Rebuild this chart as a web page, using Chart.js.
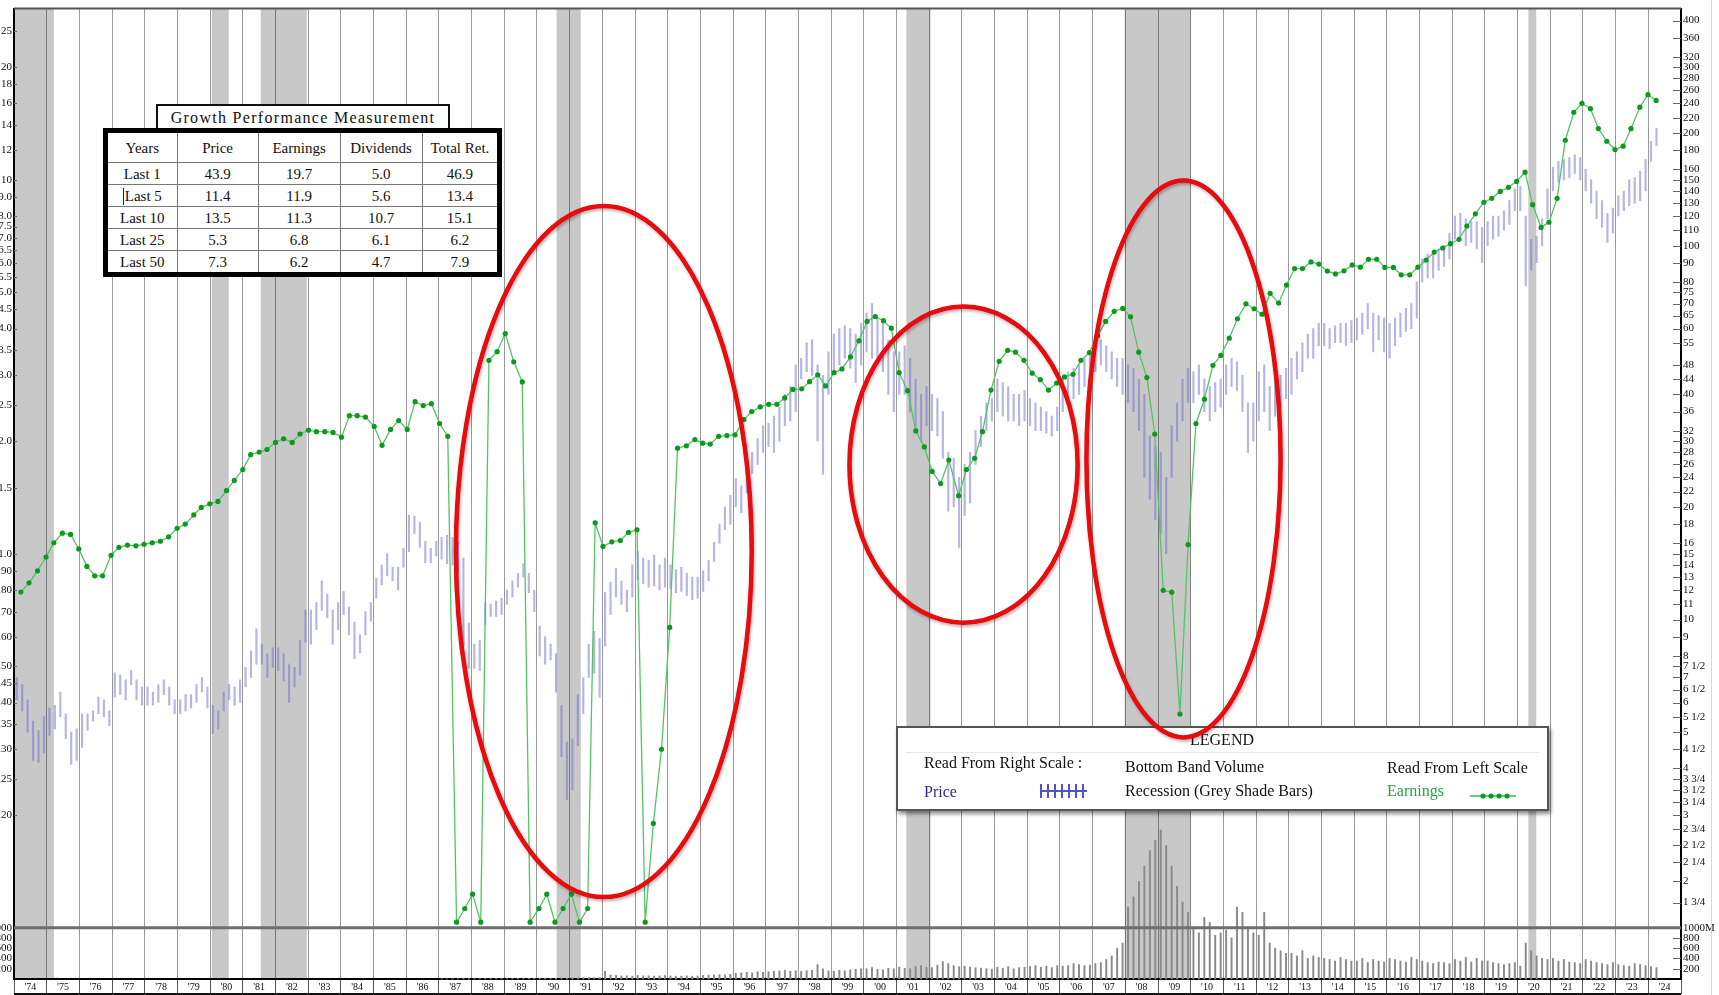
<!DOCTYPE html>
<html>
<head>
<meta charset="utf-8">
<script src="https://cdn.jsdelivr.net/npm/chart.js@4.4.1/dist/chart.umd.min.js"></script>
<style>
  html, body { margin:0; padding:0; background:#fff; }
  #wrap { position:relative; width:1719px; height:995px; overflow:hidden; font-family:"Liberation Serif","DejaVu Serif",serif; color:#111; }
  #chart { position:absolute; left:0; top:0; }
  #marks { position:absolute; left:0; top:0; pointer-events:none; }
  #edge { position:absolute; left:1711px; top:0; width:1px; height:995px; background:#d8d8d8; }
  .perfTitle { position:absolute; left:156px; top:104px; width:290px; height:22px; border:2px solid #111; background:#fff;
    font-size:16px; letter-spacing:1.3px; text-align:center; line-height:23px; }
  table.perf { position:absolute; left:103px; top:128px; width:399px; height:145px; border-collapse:collapse;
    border:5px solid #000; background:#fff; font-size:15px; }
  table.perf td { border:1.5px solid #777; text-align:center; padding:0; height:21px; line-height:18px; }
  table.perf tr.head td { height:29px; }
  .cursor { display:inline-block; width:1px; height:17px; background:#222; vertical-align:-4px; margin-right:1px; }
  #legendBox { position:absolute; left:896px; top:726px; width:649px; height:81px; border:2.5px solid #555; background:#fff;
    box-shadow:2px 3px 4px rgba(0,0,0,0.45); }
  #legendBox .t { position:absolute; font-size:16px; white-space:nowrap; line-height:18px; }
  #legendBox .rule { position:absolute; left:8px; right:8px; top:24px; height:1px; background:#e6e6e6; }
</style>
</head>
<body>
<div id="wrap">
  <canvas id="chart" width="1719" height="995"></canvas>
  <div id="edge"></div>
  <div class="perfTitle">Growth Performance Measurement</div>
  <table class="perf" id="perf"></table>
  <div id="legendBox">
    <div class="t" style="left:292px; top:3px;">LEGEND</div>
    <div class="rule"></div>
    <div class="t" style="left:26px; top:26px;">Read From Right Scale :</div>
    <div class="t" style="left:227px; top:30px;">Bottom Band Volume</div>
    <div class="t" style="left:489px; top:31px;">Read From Left Scale</div>
    <div class="t" style="left:26px; top:55px; color:#2d2d84;">Price</div>
    <svg style="position:absolute; left:141px; top:55px;" width="50" height="16">
      <line x1="1" y1="8" x2="48" y2="8" stroke="#5252c8" stroke-width="2"/>
      <g stroke="#5252c8" stroke-width="2">
        <line x1="2" y1="1" x2="2" y2="15"/><line x1="9" y1="1" x2="9" y2="15"/><line x1="16" y1="1" x2="16" y2="15"/>
        <line x1="23" y1="1" x2="23" y2="15"/><line x1="30" y1="1" x2="30" y2="15"/><line x1="37" y1="1" x2="37" y2="15"/>
        <line x1="44" y1="1" x2="44" y2="15"/>
      </g>
    </svg>
    <div class="t" style="left:227px; top:54px;">Recession (Grey Shade Bars)</div>
    <div class="t" style="left:489px; top:54px; color:#2f9e46;">Earnings</div>
    <svg style="position:absolute; left:571px; top:63px;" width="48" height="10">
      <line x1="1" y1="5" x2="47" y2="5" stroke="#3fb552" stroke-width="1.6"/>
      <g fill="#0c9a1c"><circle cx="14" cy="5" r="2.6"/><circle cx="22" cy="5" r="2.6"/><circle cx="30" cy="5" r="2.6"/><circle cx="38" cy="5" r="2.6"/></g>
    </svg>
  </div>
  <svg id="marks" width="1719" height="995"></svg>
</div>
<script>
// ---- table ----
const perfHeader = ['Years', 'Price', 'Earnings', 'Dividends', 'Total Ret.'];
const perfRows = [
  ['Last 1', '43.9', '19.7', '5.0', '46.9'],
  ['Last 5', '11.4', '11.9', '5.6', '13.4'],
  ['Last 10', '13.5', '11.3', '10.7', '15.1'],
  ['Last 25', '5.3', '6.8', '6.1', '6.2'],
  ['Last 50', '7.3', '6.2', '4.7', '7.9']
];
const perfColWidths = [70, 82, 82, 82, 76];

// ---- earnings (left scale), quarterly ----
const earnYears = [
  1974.21,1974.46,1974.72,1974.98, 1975.22,1975.48,1975.73,1975.98, 1976.23,1976.47,1976.71,1976.97,
  1977.21,1977.47,1977.73,1977.98, 1978.23,1978.48,1978.73,1978.99, 1979.24,1979.5,1979.73,1979.99,
  1980.24,1980.5,1980.74,1981.0, 1981.24,1981.5,1981.74,1982.0, 1982.25,1982.51,1982.75,1983.01,
  1983.25,1983.51,1983.76,1984.02, 1984.26,1984.5,1984.75,1985.02, 1985.26,1985.52,1985.77,1986.03,
  1986.27,1986.52,1986.77,1987.02, 1987.27,1987.54,1987.79,1988.03, 1988.28,1988.53,1988.78,1989.03,
  1989.29,1989.55,1989.79,1990.06, 1990.3,1990.55,1990.8,1991.05, 1991.3,1991.55,1991.78,1992.02,
  1992.29,1992.55,1992.8,1993.06, 1993.31,1993.56,1993.81,1994.06, 1994.3,1994.57,1994.83,1995.07,
  1995.3,1995.56,1995.81,1996.06, 1996.33,1996.57,1996.83,1997.09, 1997.34,1997.58,1997.83,1998.1,
  1998.34,1998.59,1998.83,1999.09, 1999.33,1999.59,1999.85,2000.1, 2000.35,2000.6,2000.84,2001.08,
  2001.34,2001.59,2001.85,2002.09, 2002.35,2002.6,2002.9,2003.14, 2003.39,2003.63,2003.89,2004.14,
  2004.4,2004.64,2004.9,2005.15, 2005.4,2005.65,2005.9,2006.14, 2006.4,2006.64,2006.9,2007.15,
  2007.4,2007.66,2007.92,2008.16, 2008.41,2008.66,2008.9,2009.16, 2009.42,2009.67,2009.92,2010.16,
  2010.42,2010.68,2010.92,2011.18, 2011.43,2011.69,2011.94,2012.18, 2012.43,2012.69,2012.93,2013.18,
  2013.42,2013.68,2013.92,2014.18, 2014.43,2014.69,2014.94,2015.19, 2015.44,2015.69,2015.94,2016.2,
  2016.44,2016.7,2016.95,2017.2, 2017.45,2017.71,2017.95,2018.21, 2018.45,2018.71,2018.97,2019.21,
  2019.47,2019.72,2019.97,2020.23, 2020.46,2020.72,2020.96,2021.21, 2021.46,2021.72,2021.97,2022.23,
  2022.47,2022.73,2022.98,2023.23, 2023.47,2023.74,2023.99,2024.24
];
const earnValues = [
  0.79,0.836,0.90,0.98, 1.07,1.135,1.126,1.03, 0.925,0.873,0.873,0.99,
  1.04,1.055,1.05,1.06, 1.07,1.08,1.11,1.17, 1.20,1.27,1.33,1.36,
  1.38,1.475,1.57,1.68, 1.84,1.87,1.90,1.985, 2.03,1.985,2.09,2.14,
  2.12,2.12,2.11,2.05, 2.34,2.34,2.32,2.19, 1.95,2.15,2.27,2.15,
  2.55,2.49,2.52,2.23, 2.06,0.1034,0.1125,0.1229, 0.1034,3.29,3.47,3.88,
  3.26,2.88,0.1034,0.1125, 0.1229,0.1034,0.1125,0.1229, 0.1034,0.1125,1.21,1.046,
  1.076,1.085,1.14,1.159, 0.1034,0.19,0.30,0.635, 1.915,1.943,2.02,1.975,
  1.965,2.06,2.07,2.08, 2.285,2.40,2.47,2.51, 2.51,2.61,2.75,2.76,
  2.885,3.01,2.81,3.05, 3.12,3.36,3.71,4.18, 4.31,4.20,4.01,3.05,
  2.73,2.13,1.93,1.66, 1.54,1.78,1.43,1.68, 1.80,2.12,2.74,3.27,
  3.50,3.46,3.29,3.04, 2.92,2.74,2.86,2.97, 3.02,3.29,3.45,3.83,
  4.18,4.45,4.53,4.30, 3.46,2.96,2.09,0.798, 0.789,0.3725,1.058,2.23,
  2.59,3.19,3.39,3.77, 4.25,4.66,4.52,4.37, 4.97,4.68,5.23,5.79,
  5.79,6.03,5.95,5.70, 5.60,5.71,5.92,5.84, 6.13,6.13,5.83,5.83,
  5.57,5.57,5.84,6.10, 6.41,6.57,6.75,6.93, 7.52,8.11,8.71,8.92,
  9.31,9.55,9.90,10.48, 8.58,7.46,7.70,8.92, 12.76,15.16,16.02,15.5,
  13.71,12.68,12.05,12.3, 13.7,15.64,16.89,16.3
];

// ---- price (right scale), two-month high/low bars from Jan 1974 ----
const priceStart = 1974;
const priceLow = [
  6.1,5.7,5.0,4.2,4.15,4.4,   4.9,5.1,5.5,4.8,4.1,4.2,    4.55,5.05,5.35,5.6,5.5,5.2,
  6.2,6.3,6.1,6.7,6.1,5.9,    5.9,5.9,6.0,6.3,5.9,5.6,    5.6,5.7,5.8,6.0,6.4,5.8,
  4.95,5.1,5.7,6.1,5.9,6.0,   6.6,7.0,7.6,7.6,7.0,7.45,   7.3,6.85,6.0,6.6,7.1,8.7,
  8.6,9.4,10.6,10.1,8.6,9.4,  10.3,9.1,7.85,8.15,9.1,9.9, 11.4,12.4,13.1,12.7,12.0,13.8,
  15.2,17.0,15.6,14.2,14.2,14.8, 14.5,14.1,14.0,13.5,8.5,7.4, 7.4,7.3,9.7,10.2,10.2,10.3,
  11.0,11.5,12.2,13.0,11.8,10.5, 8.0,7.6,7.8,6.4,4.3,3.3,  3.5,4.6,5.6,7.0,7.2,6.2,
  8.5,10.3,11.5,11.0,10.5,11.5, 12.8,12.5,12.2,12.3,12.0,12.2, 12.1,11.8,11.9,11.6,11.3,11.4,
  11.9,12.7,14.3,16.0,17.4,18.0, 20,19.3,21.8,24.6,26,28,  29,28,30,33,34,36,
  44,46,45,30,24.5,40,        46,48,50,47,43,48,          52,50,48,46,40,36,
  40,40,36,32,30,33,          32,31,27,19.5,20,15.6,      19,20.5,26,29,32,34,
  36,35,34,34,33,34,          33,32,32,31.5,31,32,        36,38,39,40,42,44,
  46,48,46,44,42,40,          38,36,32,24,21,18.5,        17,15,24,30,34,38,
  38,40,36,34,36,37,          40,42,41,36,28,30,          34,36,32,35,37,39,
  40,44,46,50,50,54,          54,53,55,55,54,55,          56,58,60,52,56,52,
  50,54,57,59,60,64,          80,82,82,86,88,92,          104,106,100,102,98,90,
  100,104,106,110,114,124,    124,78,86,90,100,118,       140,148,150,152,156,150,
  140,130,118,112,102,108,    120,124,128,130,132,140,    168,185
];
const priceHigh = [
  7.0,6.7,6.1,5.35,5.05,5.5,  5.8,5.9,6.4,5.6,5.0,5.1,    5.6,5.6,5.7,6.2,6.1,5.7,
  7.2,7.1,6.9,7.3,6.9,6.6,    6.6,6.4,6.7,6.9,6.6,6.1,    6.1,6.3,6.3,6.7,7.0,6.6,
  5.9,5.7,6.4,6.7,6.6,6.9,    7.45,8.25,9.45,8.6,8.1,8.4, 8.4,8.1,7.6,7.45,8.8,10.6,
  10.6,11.1,12.7,11.7,10.6,11.1, 11.9,10.8,9.85,9.1,10.5,11.1, 12.9,14.0,15.0,13.8,13.8,15.5,
  19.0,18.9,18.2,16.2,15.5,16.2, 16.6,16.8,16.6,16.2,14.6,9.8, 8.6,8.8,11.1,11.0,11.2,11.4,
  12.0,12.7,13.3,14.1,13.3,12.0, 9.6,9.0,8.6,8.1,5.9,4.7,  4.8,6.3,7.0,8.6,9.3,8.9,
  11.8,12.6,13.7,12.7,12.0,14.0, 15.2,14.6,14.4,14.9,14.0,14.6, 14.0,13.6,13.8,13.3,13.0,13.0,
  13.5,14.4,16.1,18.0,20.0,21.5, 23.8,22.8,25,28,30.5,33,  33.5,35,37,40,42,48,
  50,55,56,48,45,52,          58,60,61,60,58,62,          66,70,64,62,56,52,
  52,54,50,44,40,42,          40,39,36,28,27,24,          26,28,32,35,38,39,
  44,43,42,40,40,41,          39,38,37,36,35,37,          44,46,47,48,50,52,
  54,56,54,52,50,50,          48,47,44,40,31,29,          28,24,33,38,44,47,
  46,48,44,42,43,44,          48,50,49,45,38,38,          46,48,42,44,45,47,
  50,52,55,58,60,62,          62,60,61,62,62,63,          64,66,70,66,65,64,
  62,64,66,68,70,80,          92,95,96,98,100,108,        120,122,118,116,116,112,
  116,120,120,124,132,142,    144,120,104,106,118,142,    162,168,170,172,175,172,
  160,150,140,132,122,126,    136,140,150,152,158,170,    190,206
];

// ---- volume (bottom band, millions), two-month bars from Jan 1987 ----
const volumeStart = 1987;
const volume = [
  5,5,6,6,15,10,        8,8,9,10,10,10,        10,10,12,12,12,12,      12,13,14,15,20,18,
  20,22,25,28,30,30,    150,80,70,60,60,55,    70,60,60,55,60,65,      60,55,55,60,55,60,
  70,75,80,85,80,90,    110,120,130,120,140,130, 140,150,160,170,150,160, 150,160,170,280,200,160,
  150,170,160,180,190,200, 200,220,190,180,210,200, 230,210,200,240,260,230, 220,270,340,300,260,240,
  250,230,220,210,200,190, 230,210,240,200,220,230, 240,260,230,250,220,260, 250,260,300,280,260,270,
  300,320,380,450,600,700, 1400,1600,1900,2200,2500,2700, 2900,2600,2200,1800,1500,1300,
  1000,900,1200,1100,850,900, 950,800,1400,1300,1000,900, 850,1300,700,600,550,500,
  500,450,550,400,450,420, 400,380,350,420,380,350, 350,400,320,380,350,330,
  400,380,350,330,420,380, 350,320,300,330,320,300, 380,350,420,330,400,350,
  350,320,300,280,300,320, 250,700,550,450,400,380, 400,350,380,330,320,300,
  380,350,320,300,280,320, 280,260,250,300,280,260, 240,220
];

// ---- recessions (grey shade bars) ----
const recessionStart = [1974.0, 1980.05, 1981.55, 1990.6, 2001.3, 2007.98, 2020.33];
const recessionEnd   = [1975.22, 1980.57, 1982.96, 1991.34, 2002.04, 2010.0, 2020.57];

// ---- red ellipses, in years / left-scale values ----
const ellipseLeft   = [1987.52, 1999.56, 2006.81];
const ellipseRight  = [1996.57, 2006.54, 2012.75];
const ellipseTop    = [8.51, 4.58, 9.95];
const ellipseBottom = [0.1207, 0.654, 0.3227];

// ---- axes ----
const yearLabels = ["'74","'75","'76","'77","'78","'79","'80","'81","'82","'83","'84","'85","'86","'87","'88","'89",
  "'90","'91","'92","'93","'94","'95","'96","'97","'98","'99","'00","'01","'02","'03","'04","'05","'06","'07",
  "'08","'09","'10","'11","'12","'13","'14","'15","'16","'17","'18","'19","'20","'21","'22","'23","'24"];
const leftTickValues = [25,20,18,16,14,12,10,9,8,7.5,7,6.5,6,5.5,5,4.5,4,3.5,3,2.5,2,1.5,1,0.9,0.8,0.7,0.6,0.5,0.45,0.4,0.35,0.3,0.25,0.2];
const leftTickLabels = ['25','20','18','16','14','12','10','9.0','8.0','7.5','7.0','6.5','6.0','5.5','5.0','4.5','4.0','3.5','3.0','2.5','2.0','1.5','1.0','.90','.80','.70','.60','.50','.45','.40','.35','.30','.25','.20'];
const rightTickValues = [400,360,320,300,280,260,240,220,200,180,160,150,140,130,120,110,100,90,80,75,70,65,60,55,48,44,40,36,32,30,28,26,24,22,20,18,16,15,14,13,12,11,10,9,8,7.5,7,6.5,6,5.5,5,4.5,4,3.75,3.5,3.25,3,2.75,2.5,2.25,2,1.75];
const rightTickLabels = ['400','360','320','300','280','260','240','220','200','180','160','150','140','130','120','110','100','90','80','75','70','65','60','55','48','44','40','36','32','30','28','26','24','22','20','18','16','15','14','13','12','11','10','9','8','7 1/2','7','6 1/2','6','5 1/2','5','4 1/2','4','3 3/4','3 1/2','3 1/4','3','2 3/4','2 1/2','2 1/4','2','1 3/4'];
const volTickValues = [1000, 800, 600, 400, 200];
const volTickLabelsRight = ['1000M', '800', '600', '400', '200'];
const volTickLabelsLeft = ['1000', '800', '600', '400', '200'];

// build table
const tbl = document.getElementById('perf');
let html = '<tr class="head">' + perfHeader.map((h, i) => '<td style="width:' + perfColWidths[i] + 'px">' + h + '</td>').join('') + '</tr>';
perfRows.forEach((r, ri) => {
  html += '<tr>' + r.map((c, i) => '<td>' + (ri === 1 && i === 0 ? '<span class="cursor"></span>' : '') + c + '</td>').join('') + '</tr>';
});
tbl.innerHTML = html;

const serif = '"Liberation Serif", "DejaVu Serif", serif';
const tickFont = { family: serif, size: 11 };

const frame = {
  id: 'frame',
  beforeDraw(chart) {
    const { ctx, chartArea: a, scales } = chart;
    ctx.save();
    ctx.fillStyle = '#c8c8c8';
    for (let i = 0; i < recessionStart.length; i++) {
      const x0 = Math.max(a.left, scales.x.getPixelForValue(recessionStart[i]));
      const x1 = scales.x.getPixelForValue(recessionEnd[i]);
      ctx.fillRect(x0, a.top, x1 - x0, a.bottom - a.top);
    }
    ctx.restore();
  },
  afterDraw(chart) {
    const { ctx, chartArea: a, scales } = chart;
    ctx.save();
    ctx.lineWidth = 1;
    ctx.strokeStyle = '#666';
    const inner = (scale, x0, x1) => scale.ticks.forEach(t => {
      const y = Math.round(scale.getPixelForValue(t.value)) + 0.5;
      ctx.beginPath(); ctx.moveTo(x0, y); ctx.lineTo(x1, y); ctx.stroke();
    });
    inner(scales.yP, a.right - 8, a.right);
    inner(scales.yVR, a.right - 8, a.right);
    inner(scales.yE, a.left, a.left + 3);
    // separator between price panel and volume band
    ctx.strokeStyle = '#6e6e6e';
    ctx.lineWidth = 3;
    ctx.beginPath(); ctx.moveTo(a.left, scales.yE.bottom); ctx.lineTo(a.right, scales.yE.bottom); ctx.stroke();
    ctx.strokeStyle = '#555';
    ctx.lineWidth = 2;
    ctx.beginPath(); ctx.moveTo(a.left, a.top); ctx.lineTo(a.right, a.top); ctx.stroke();
    ctx.strokeStyle = '#111';
    ctx.beginPath(); ctx.moveTo(a.left, scales.x.bottom - 1); ctx.lineTo(a.right, scales.x.bottom - 1); ctx.stroke();
    ctx.restore();

    // red ellipses over everything
    const svg = document.getElementById('marks');
    let s = '<defs><filter id="sh" x="-10%" y="-10%" width="120%" height="120%"><feDropShadow dx="1" dy="2" stdDeviation="1.5" flood-color="#000" flood-opacity="0.3"/></filter></defs>';
    for (let i = 0; i < ellipseLeft.length; i++) {
      const x0 = scales.x.getPixelForValue(ellipseLeft[i]);
      const x1 = scales.x.getPixelForValue(ellipseRight[i]);
      const y0 = scales.yE.getPixelForValue(ellipseTop[i]);
      const y1 = scales.yE.getPixelForValue(ellipseBottom[i]);
      s += '<ellipse cx="' + ((x0 + x1) / 2) + '" cy="' + ((y0 + y1) / 2) + '" rx="' + ((x1 - x0) / 2) + '" ry="' + ((y1 - y0) / 2) +
        '" fill="none" stroke="#e8070e" stroke-width="4.5" filter="url(#sh)"/>';
    }
    svg.innerHTML = s;
  }
};

new Chart(document.getElementById('chart'), {
  type: 'bar',
  data: {
    datasets: [
      {
        type: 'line', label: 'Earnings', yAxisID: 'yE', order: 1,
        data: earnYears.map((x, i) => ({ x: x, y: earnValues[i] })),
        borderColor: '#52c463', borderWidth: 1.3, tension: 0,
        pointRadius: 2.6, pointBackgroundColor: '#0c9a1c', pointBorderWidth: 0
      },
      {
        type: 'bar', label: 'Price', yAxisID: 'yP', order: 2, grouped: false,
        data: priceLow.map((lo, i) => ({ x: priceStart + (i + 0.5) / 6, y: [lo, priceHigh[i]] })),
        backgroundColor: 'rgba(108,108,205,0.5)', barThickness: 1.5
      },
      {
        type: 'bar', label: 'Volume', yAxisID: 'yVR', order: 3, grouped: false, clip: false,
        data: volume.map((v, i) => ({ x: volumeStart + (i + 0.5) / 6, y: v })),
        backgroundColor: '#8a8a8a', barThickness: 1.3
      }
    ]
  },
  options: {
    responsive: false,
    devicePixelRatio: 1,
    animation: false,
    layout: { padding: { top: 6, left: 0, right: 0, bottom: 0 } },
    plugins: { legend: { display: false }, tooltip: { enabled: false } },
    scales: {
      x: {
        type: 'linear', position: 'bottom', min: 1974, max: 2025, offset: false,
        afterBuildTicks: s => { s.ticks = yearLabels.concat(['']).map((l, i) => ({ value: 1974 + i })); },
        afterFit: s => { s.height = 16; },
        grid: { offset: false, color: 'rgba(0,0,0,0.4)', lineWidth: 1, tickLength: 15, tickColor: '#555' },
        border: { color: '#000', width: 2 },
        ticks: { autoSkip: false, maxRotation: 0, labelOffset: 16.3, padding: -13, color: '#111',
          font: { family: serif, size: 10 }, callback: (v, i) => yearLabels[i] || '' }
      },
      yVL: {
        type: 'linear', position: 'left', stack: 'left', stackWeight: 51.5, min: 0, max: 1000,
        afterBuildTicks: s => { s.ticks = volTickValues.map(v => ({ value: v })); },
        afterFit: s => { s.width = 14; },
        grid: { drawOnChartArea: false, drawTicks: false },
        border: { color: '#000', width: 2 },
        ticks: { autoSkip: false, padding: 2, color: '#111', font: tickFont, callback: (v, i) => volTickLabelsLeft[i] }
      },
      yE: {
        type: 'logarithmic', position: 'left', stack: 'left', stackWeight: 921.5, min: 0.1, max: 28.7,
        afterBuildTicks: s => { s.ticks = leftTickValues.map(v => ({ value: v })); },
        afterFit: s => { s.width = 14; },
        grid: { drawOnChartArea: false, drawTicks: false },
        border: { color: '#000', width: 2 },
        ticks: { autoSkip: false, padding: 2, color: '#111', font: tickFont, callback: (v, i) => leftTickLabels[i] }
      },
      yP: {
        type: 'logarithmic', position: 'right', stack: 'right', stackWeight: 921.5, min: 1.5, max: 430.5,
        afterBuildTicks: s => { s.ticks = rightTickValues.map(v => ({ value: v })); },
        afterFit: s => { s.width = 38; },
        grid: { drawOnChartArea: false, drawTicks: false },
        border: { color: '#000', width: 2 },
        ticks: { autoSkip: false, padding: 2, color: '#111', font: tickFont, callback: (v, i) => rightTickLabels[i] }
      },
      yVR: {
        type: 'linear', position: 'right', stack: 'right', stackWeight: 51.5, min: 0, max: 1000,
        afterBuildTicks: s => { s.ticks = volTickValues.map(v => ({ value: v })); },
        afterFit: s => { s.width = 38; },
        grid: { drawOnChartArea: false, drawTicks: false },
        border: { color: '#000', width: 2 },
        ticks: { autoSkip: false, padding: 2, color: '#111', font: tickFont, callback: (v, i) => volTickLabelsRight[i] }
      }
    }
  },
  plugins: [frame]
});
</script>
</body>
</html>
